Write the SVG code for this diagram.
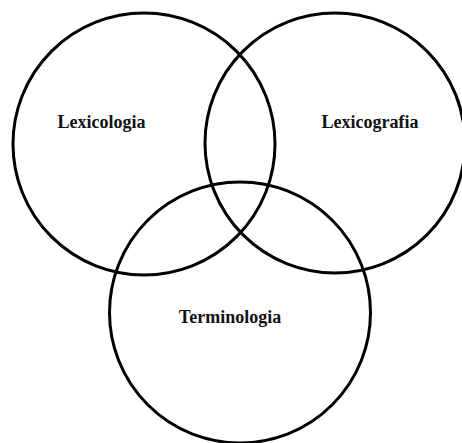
<svg xmlns="http://www.w3.org/2000/svg" width="462" height="443" viewBox="0 0 462 443">
<style>
.c{fill:none;stroke:#000;stroke-width:3}
.t{font-family:"Liberation Serif","Times New Roman",serif;font-weight:bold;font-size:18px;fill:#111;text-anchor:middle}
</style>
<rect width="462" height="443" fill="#fff"/>
<g id="lexicologia"><circle class="c" cx="144" cy="144" r="131"/><text class="t" x="101.5" y="128">Lexicologia</text></g>
<g id="lexicografia"><circle class="c" cx="335" cy="143" r="130"/><text class="t" x="370" y="128">Lexicografia</text></g>
<g id="terminologia"><circle class="c" cx="240" cy="312.5" r="130.5"/><text class="t" x="230" y="323">Terminologia</text></g>
<g id="connectors"></g>
</svg>
